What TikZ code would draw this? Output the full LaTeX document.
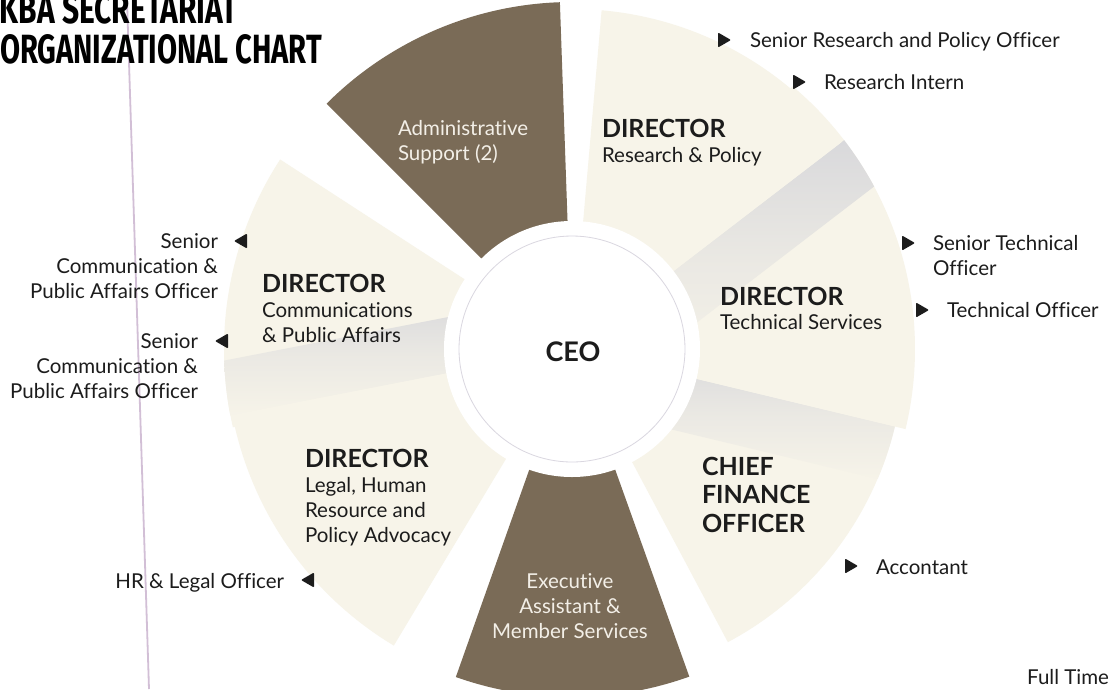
\documentclass[tikz,border=0pt]{standalone}
\usepackage{fontspec}
\usepackage{graphicx}
\setmainfont{Lato}[Ligatures=NoCommon]
\newfontfamily\titlefont{Fira Sans}
\usetikzlibrary{calc}
\definecolor{cream}{HTML}{F7F4E9}
\definecolor{brownsec}{HTML}{7A6B57}
\definecolor{shadowgray}{HTML}{D8D8DB}
\definecolor{vline}{HTML}{D2BFD6}
\definecolor{txt}{HTML}{1C1C1C}
\definecolor{paper}{HTML}{F3EFE7}
\definecolor{ringline}{HTML}{DAD7E0}
\newcommand{\petal}[4]{\fill[#1] (C) -- ([shift={(#2:#4)}]C) arc[start angle=#2, end angle=#3, radius=#4] -- cycle;}
\newcommand{\foldshade}[3]{%
  \begin{scope}
    \clip (C) circle (#2);
    \begin{scope}[shift={(C)}, rotate=#1]
      \shade[top color=shadowgray, bottom color=cream, middle color=shadowgray!40!cream] (0,-#3) rectangle (#2+10,0);
    \end{scope}
  \end{scope}}
\newcommand{\Lstack}[2][25]{\vtop{\baselineskip=#1pt\lineskiplimit=-20pt\halign{##\hfil\cr#2\crcr}}}
\newcommand{\Rstack}[2][25]{\vtop{\baselineskip=#1pt\lineskiplimit=-20pt\halign{\hfil##\cr#2\crcr}}}
\newcommand{\Cstack}[2][25]{\vtop{\baselineskip=#1pt\lineskiplimit=-20pt\halign{\hfil##\hfil\cr#2\crcr}}}
\newcommand{\tright}[1]{\fill[txt, rounded corners=1pt] (#1) ++(-6,7.5) -- ++(13,-7.5) -- ++(-13,-7.5) -- cycle;}
\newcommand{\tleft}[1]{\fill[txt, rounded corners=1pt] (#1) ++(6,7.5) -- ++(-13,-7.5) -- ++(13,-7.5) -- cycle;}
\begin{document}
\begin{tikzpicture}[x=1pt,y=1pt,
  every node/.style={inner sep=0pt, outer sep=0pt},
  reg/.style={font=\fontsize{20.5}{25}\selectfont, text=txt, anchor=base west},
  regr/.style={font=\fontsize{20.5}{25}\selectfont, text=txt, anchor=base east},
  hd/.style={font=\fontsize{25}{28.5}\selectfont\bfseries, text=txt, anchor=base west},
  inw/.style={font=\fontsize{20.5}{25}\selectfont, text=paper},
  ttl/.style={anchor=base west, text=black}]
\useasboundingbox (0,0) rectangle (1109,-689);
\fill[white] (0,0) rectangle (1109,-689);
\coordinate (C) at (572,-349);

% petals (drawn from underneath to top)
\petal{cream}{-62}{0}{332}
\foldshade{-13.5}{332}{55}
\petal{cream}{-13.5}{50}{343}
\foldshade{37.5}{343}{55}
\petal{cream}{37.5}{85}{340}
\petal{brownsec}{92}{135}{347}
\petal{cream}{147}{193}{348}
\foldshade{191}{348}{55}
\petal{cream}{191}{239}{346}
\petal{brownsec}{250.5}{289.7}{348}

% ring and CEO
\fill[white] (C) circle (128);
\node[circle, minimum size=226pt, fill=white, draw=ringline, line width=0.8pt] (ceo) at (C) {};
\node[font=\fontsize{27}{30}\selectfont\bfseries, text=txt, anchor=base] (ceot) at (573,-361) {CEO};

% vertical rule
\coordinate (vtop) at (127,0);
\coordinate (vbot) at (149,-689);
\draw[vline, line width=1.8pt] (vtop) -- (vbot);

% title
\node[ttl] (title1) at (0,-23) {\resizebox{238pt}{29pt}{\titlefont\bfseries KBA SECRETARIAT}};
\node[ttl] (title2) at (0,-63) {\resizebox{322pt}{29pt}{\titlefont\bfseries ORGANIZATIONAL CHART}};

% sector texts
\node[inw, anchor=base west] (adm) at (398,-135) {\Lstack{Administrative\cr Support (2)}};
\node[hd] (rph) at (602,-137) {DIRECTOR};
\node[reg] (rps) at (602,-162) {Research \& Policy};
\node[hd] (tsh) at (720,-305) {DIRECTOR};
\node[reg] (tss) at (720,-329) {Technical Services};
\node[hd] (cfo) at (702,-475) {\Lstack[28.5]{CHIEF\cr FINANCE\cr OFFICER}};
\node[inw, anchor=base] (exe) at (570,-588) {\Cstack{Executive\cr Assistant \&\cr Member Services}};
\node[hd] (lgh) at (305,-467) {DIRECTOR};
\node[reg] (lgs) at (305,-492) {\Lstack{Legal, Human\cr Resource and\cr Policy Advocacy}};
\node[hd] (cmh) at (262,-292) {DIRECTOR};
\node[reg] (cms) at (262,-317) {\Lstack{Communications\cr \& Public Affairs}};

% outer staff labels
\tright{724,-40}
\node[reg] (srp) at (750,-47) {Senior Research and Policy Officer};
\tright{799,-82}
\node[reg] (ri) at (824,-89) {Research Intern};
\tright{908,-243}
\node[reg] (sto) at (933,-250) {\Lstack{Senior Technical\cr Officer}};
\tright{922,-310}
\node[reg] (to) at (947,-317) {Technical Officer};
\tright{851,-566}
\node[reg] (acc) at (876,-574) {Accontant};
\tleft{241,-241}
\node[regr] (sc1) at (218,-248) {\Rstack{Senior\cr Communication \&\cr Public Affairs Officer}};
\tleft{222,-341}
\node[regr] (sc2) at (198,-348) {\Rstack{Senior\cr Communication \&\cr Public Affairs Officer}};
\tleft{308,-580}
\node[regr] (hr) at (284,-588) {HR \& Legal Officer};
\node[regr] (ft) at (1109,-684) {Full Time};
\end{tikzpicture}
\end{document}
